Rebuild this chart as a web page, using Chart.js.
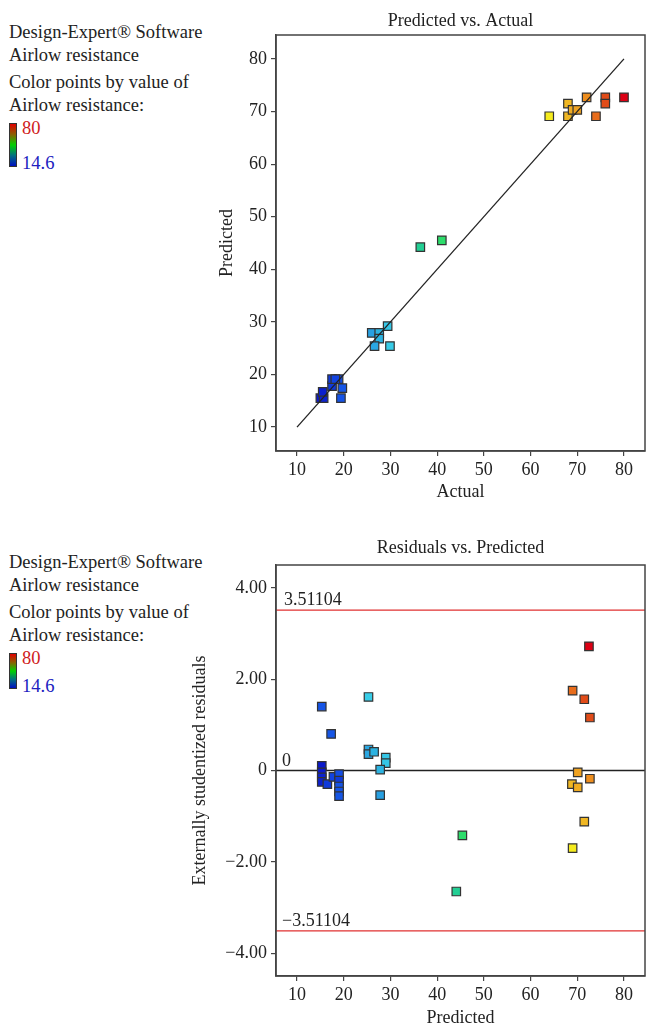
<!DOCTYPE html>
<html>
<head>
<meta charset="utf-8">
<script src="https://cdn.jsdelivr.net/npm/chart.js@4"></script>
<style>
  html, body { margin: 0; padding: 0; background: #fff; overflow: hidden; }
  body { width: 646px; height: 1026px; position: relative; font-family: 'Liberation Serif', serif; color: #222; }
  .box { position: absolute; left: 0; width: 646px; }
  .legend { position: absolute; left: 9px; font-size: 18.5px; line-height: 23px; white-space: nowrap; }
  .legend p { margin: 0; }
  .legend .gap { height: 4px; }
  .bar { position: absolute; left: 0; width: 6px; border: 1px solid #333;
         background: linear-gradient(to bottom, #e00000 0%, #8a6000 25%, #00d000 50%, #007080 75%, #0010c0 100%); }
  .hi { position: absolute; left: 13px; color: #d02020; }
  .lo { position: absolute; left: 13px; color: #2020c0; }
</style>
</head>
<body>

<div class="legend" style="top:21px">
  <p>Design-Expert® Software</p>
  <p>Airlow resistance</p>
  <div class="gap"></div>
  <p>Color points by value of</p>
  <p>Airlow resistance:</p>
  <div class="bar" style="top:102px;height:42px"></div>
  <div class="hi" style="top:96px">80</div>
  <div class="lo" style="top:131px">14.6</div>
</div>

<div class="legend" style="top:551px">
  <p>Design-Expert® Software</p>
  <p>Airlow resistance</p>
  <div class="gap"></div>
  <p>Color points by value of</p>
  <p>Airlow resistance:</p>
  <div class="bar" style="top:102px;height:34px"></div>
  <div class="hi" style="top:96px">80</div>
  <div class="lo" style="top:124px">14.6</div>
</div>

<div class="box" style="top:0;height:515px"><canvas id="pva"></canvas></div>
<div class="box" style="top:515px;height:511px"><canvas id="rvp"></canvas></div>

<script>
// ---- data: Predicted vs. Actual ----
const actual    = [64, 68, 68, 69, 70, 72, 74, 76, 76, 80, 36.4, 41, 29.4, 26, 27.6, 27.6, 26.6, 29.9, 15, 15.7, 15.5, 17.5, 17.5, 18.9, 18.2, 19.7, 19.4];
const predicted = [69.1, 71.5, 69.1, 70.3, 70.3, 72.7, 69.1, 72.7, 71.5, 72.7, 44.2, 45.5, 29.2, 27.9, 27.9, 26.8, 25.4, 25.4, 15.5, 15.5, 16.7, 17.8, 19.1, 19.1, 19.1, 17.4, 15.5];
const refLine   = [10, 80];

// ---- data: Residuals vs. Predicted ----
const residPredicted = [72.5, 69.0, 71.5, 72.7, 70.1, 72.7, 68.85, 70.1, 71.5, 69.0, 45.4, 44.1, 25.3, 25.3, 25.3, 26.5, 29.0, 29.0, 27.8, 27.8, 15.3, 17.3, 15.3, 15.3, 15.3, 15.3, 16.5, 17.8, 19.0, 19.0, 19.0, 19.0, 19.0];
const residuals      = [2.72, 1.75, 1.56, 1.16, -0.04, -0.18, -0.30, -0.37, -1.12, -1.70, -1.42, -2.65, 1.61, 0.46, 0.36, 0.41, 0.28, 0.16, 0.02, -0.54, 1.40, 0.80, 0.10, -0.04, -0.15, -0.25, -0.30, -0.14, -0.08, -0.22, -0.35, -0.46, -0.56];
const residActual    = [80, 74, 76, 76, 70, 72, 68, 69, 68, 64, 41, 36.4, 30, 26.6, 26.6, 27.6, 29.4, 29.4, 27.6, 26, 19.5, 19.7, 15, 15, 15.7, 15.5, 17.5, 18.2, 18.9, 17.5, 19.4, 19.4, 19.7];
const limit = 3.51104;

const colorMin = 14.6, colorMax = 80;
const xTicks = { min: 5.5, max: 84.5, step: 10 };

// jet-like scale used by Design-Expert
const stops = [
  [0.00, [10, 20, 200]],
  [0.07, [20, 80, 230]],
  [0.20, [45, 180, 225]],
  [0.25, [60, 215, 235]],
  [0.35, [30, 205, 130]],
  [0.42, [50, 225, 100]],
  [0.75, [245, 240, 30]],
  [0.82, [240, 180, 35]],
  [0.88, [238, 140, 30]],
  [0.94, [225, 75, 25]],
  [1.00, [220, 0, 20]],
];
function colorOf(v) {
  const t = Math.max(0, Math.min(1, (v - colorMin) / (colorMax - colorMin)));
  for (let i = 1; i < stops.length; i++) {
    if (t <= stops[i][0]) {
      const [t0, c0] = stops[i - 1], [t1, c1] = stops[i];
      const f = (t - t0) / (t1 - t0);
      const c = c0.map((a, k) => Math.round(a + (c1[k] - a) * f));
      return `rgb(${c[0]},${c[1]},${c[2]})`;
    }
  }
  return 'rgb(220,0,20)';
}

const FONT = 'Liberation Serif';
const INK = '#222';

// close the plot box and put the title over the plot area
const frame = {
  id: 'frame',
  afterDatasetsDraw(chart, args, opts) {
    const { ctx, chartArea: a } = chart;
    ctx.save();
    ctx.strokeStyle = '#444';
    ctx.lineWidth = 1.5;
    ctx.strokeRect(a.left, a.top, a.right - a.left, a.bottom - a.top);
    ctx.font = `18px "${FONT}"`;
    ctx.fillStyle = INK;
    ctx.textAlign = 'center';
    ctx.textBaseline = 'middle';
    ctx.fillText(opts.title, (a.left + a.right) / 2, a.top - opts.gap);
    ctx.restore();
  },
};

function axis(opts) {
  return Object.assign({
    type: 'linear',
    grid: { display: true, drawOnChartArea: false, drawTicks: true, tickLength: 5, color: '#444', lineWidth: 1.2 },
    border: { display: true, color: '#444', width: 1.5 },
  }, opts);
}

function pointSet(xs, ys, cs) {
  return {
    type: 'scatter',
    data: xs.map((x, i) => ({ x, y: ys[i] })),
    pointStyle: 'rect',
    pointRadius: 6,
    pointHoverRadius: 6,
    backgroundColor: cs.map(colorOf),
    borderColor: '#333',
    borderWidth: 1.2,
  };
}

function lineSet(xs, ys, color) {
  return {
    type: 'line',
    data: xs.map((x, i) => ({ x, y: ys[i] })),
    borderColor: color,
    borderWidth: 1.3,
    pointRadius: 0,
    fill: false,
  };
}

function baseOptions(title, areaTop, titleGap, xTitle, xTitlePad, yTitle, yTitlePad, yAxis, areaBottom) {
  return {
    responsive: true,
    maintainAspectRatio: false,
    animation: false,
    layout: { autoPadding: false, padding: { left: 0, right: 1, top: areaTop, bottom: 0 } },
    plugins: {
      legend: { display: false },
      tooltip: { enabled: false },
      title: { display: false },
      frame: { title, gap: titleGap },
    },
    scales: {
      x: axis({
        min: xTicks.min, max: xTicks.max,
        ticks: { stepSize: xTicks.step, includeBounds: false, color: INK, padding: 3, font: { family: FONT, size: 18 } },
        title: { display: true, text: xTitle, color: INK, font: { family: FONT, size: 18 }, padding: xTitlePad },
        afterFit(s) { s.height = s.chart.height - areaBottom; s.paddingLeft = 0; s.paddingRight = 0; },
      }),
      y: axis(Object.assign({
        title: { display: true, text: yTitle, color: INK, font: { family: FONT, size: 18 }, padding: yTitlePad },
        afterFit(s) { s.width = 276; s.paddingTop = 0; s.paddingBottom = 0; },
      }, yAxis)),
    },
  };
}

// ---- top chart ----
const pvaChart = new Chart(document.getElementById('pva'), {
  data: {
    datasets: [
      lineSet(refLine, refLine, '#222'),
      pointSet(actual, predicted, actual),
    ],
  },
  options: baseOptions(
    'Predicted vs. Actual', 35, 14,
    'Actual', { top: 0, bottom: 12 },
    'Predicted', { top: 216, bottom: 0 },
    {
      min: 5.45, max: 84.55,
      ticks: { stepSize: 10, includeBounds: false, color: INK, padding: 4, font: { family: FONT, size: 18 } },
    },
    451
  ),
  plugins: [frame],
});

// ---- bottom chart ----
const limitLabels = {
  id: 'limitLabels',
  afterDatasetsDraw(chart) {
    const { ctx, chartArea: a, scales: { y } } = chart;
    ctx.save();
    ctx.font = `18px "${FONT}"`;
    ctx.fillStyle = INK;
    ctx.textBaseline = 'alphabetic';
    ctx.fillText('3.51104', a.left + 8, y.getPixelForValue(limit) - 5);
    ctx.fillText('0', a.left + 6, y.getPixelForValue(0) - 5);
    ctx.fillText('\u22123.51104', a.left + 6, y.getPixelForValue(-limit) - 5);
    ctx.restore();
  },
};

const rvpChart = new Chart(document.getElementById('rvp'), {
  data: {
    datasets: [
      pointSet(residPredicted, residuals, residActual),
      lineSet([xTicks.min, xTicks.max], [0, 0], '#222'),
      lineSet([xTicks.min, xTicks.max], [limit, limit], '#e03030'),
      lineSet([xTicks.min, xTicks.max], [-limit, -limit], '#e03030'),
    ],
  },
  options: baseOptions(
    'Residuals vs. Predicted', 50, 17,
    'Predicted', { top: 0, bottom: -3 },
    'Externally studentized residuals', { top: 189, bottom: 0 },
    {
      min: -4.5, max: 4.5,
      ticks: {
        stepSize: 2, includeBounds: false, color: INK, padding: 4, font: { family: FONT, size: 18 },
        callback: v => v === 0 ? '0' : v.toFixed(2).replace('-', '\u2212'),
      },
    },
    461
  ),
  plugins: [frame, limitLabels],
});
</script>
</body>
</html>
